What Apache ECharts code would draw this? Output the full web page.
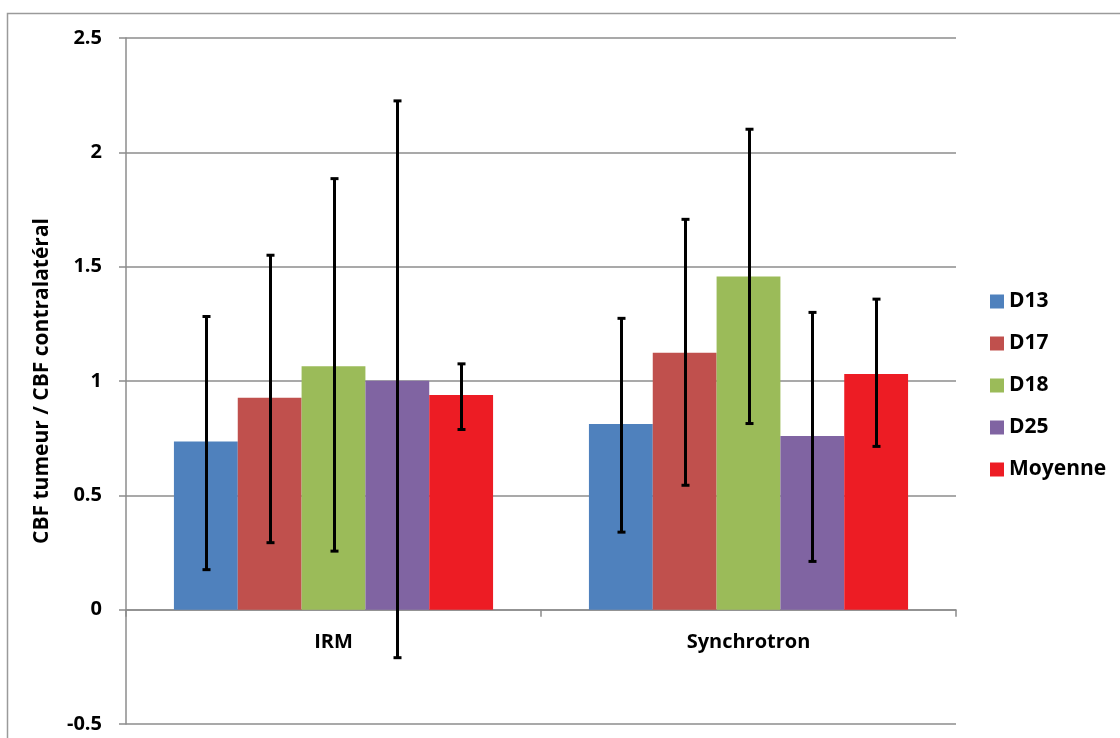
<!DOCTYPE html>
<html>
<head>
<meta charset="utf-8">
<script src="https://cdn.jsdelivr.net/npm/echarts@6/dist/echarts.min.js"></script>
<style>html,body{margin:0;padding:0;background:#fff}#c{width:1120px;height:738px}</style>
</head>
<body>
<div id="c"></div>
<script>
const categories = ['IRM', 'Synchrotron'];
const seriesNames = ['D13', 'D17', 'D18', 'D25', 'Moyenne'];
const d13 = [0.735, 0.812];
const d17 = [0.927, 1.123];
const d18 = [1.064, 1.457];
const d25 = [1.001, 0.760];
const moyenne = [0.939, 1.031];
const d13Err = [[0.175, 1.282], [0.339, 1.274]];
const d17Err = [[0.293, 1.550], [0.544, 1.707]];
const d18Err = [[0.256, 1.885], [0.814, 2.101]];
const d25Err = [[-0.210, 2.225], [0.211, 1.300]];
const moyenneErr = [[0.788, 1.075], [0.714, 1.358]];
const yTicks = { min: -0.5, max: 2.5, interval: 0.5 };

const values = [d13, d17, d18, d25, moyenne];
const errs = [d13Err, d17Err, d18Err, d25Err, moyenneErr];
const colors = ['#4F81BD', '#C0504D', '#9BBB59', '#8064A2', '#ED1C24'];
const catGap = 0.231;
const font = '"Open Sans", Lato, sans-serif';

const series = [];
values.forEach((v, i) => {
  series.push({
    name: seriesNames[i], type: 'bar', data: v,
    itemStyle: { color: colors[i] },
    barGap: '0%', barCategoryGap: (catGap * 100) + '%',
    z: 2
  });
});
const errData = [];
errs.forEach((e, i) => e.forEach((lh, c) => errData.push([c, i, lh[0], lh[1]])));
series.push({
  type: 'custom', z: 10, clip: false,
  data: errData,
  encode: { x: 0, y: [2, 3] },
  renderItem: function (params, api) {
    const c = api.value(0), s = api.value(1);
    const band = api.size([1, 0])[0];
    const groupW = band * (1 - catGap);
    const bw = groupW / seriesNames.length;
    const base = api.coord([c, 0]);
    const x = Math.round(base[0] - groupW / 2 + bw * (s + 0.5)) + 0.5;
    const lo = api.coord([c, api.value(2)])[1];
    const hi = api.coord([c, api.value(3)])[1];
    const cap = 4;
    const st = { stroke: '#000', lineWidth: 3 };
    return {
      type: 'group', children: [
        { type: 'line', shape: { x1: x, y1: hi, x2: x, y2: lo }, style: st },
        { type: 'line', shape: { x1: x - cap, y1: hi, x2: x + cap, y2: hi }, style: st },
        { type: 'line', shape: { x1: x - cap, y1: lo, x2: x + cap, y2: lo }, style: st }
      ]
    };
  }
});
// category labels placed just under the zero line (like the original)
series.push({
  type: 'custom', z: 11, clip: false, silent: true,
  data: categories.map((c, i) => [i, 0]),
  encode: { x: 0, y: 1 },
  renderItem: function (params, api) {
    const p = api.coord([api.value(0), 0]);
    return {
      type: 'text',
      style: {
        x: p[0], y: p[1] + 33, text: categories[api.value(0)],
        align: 'center', verticalAlign: 'middle',
        fontFamily: font, fontWeight: 'bold', fontSize: 20, fill: '#000'
      }
    };
  }
});

const chart = echarts.init(document.getElementById('c'));
chart.setOption({
  animation: false,
  graphic: [{
    type: 'rect', shape: { x: 7.5, y: 13.5, width: 1200, height: 800 },
    style: { fill: 'none', stroke: '#9a9a9a', lineWidth: 1.5 }, silent: true, z: -1
  }],
  grid: { left: 126, right: 164, top: 38, bottom: 14, containLabel: false, outerBoundsMode: 'none' },
  legend: {
    orient: 'vertical', left: 985, top: 286,
    itemWidth: 14, itemHeight: 14, itemGap: 21,
    data: seriesNames,
    icon: 'rect',
    textStyle: { fontFamily: font, fontWeight: 'bold', fontSize: 21, color: '#000' }
  },
  xAxis: {
    type: 'category', data: categories,
    axisLine: { onZero: true, lineStyle: { color: '#8c8c8c', width: 1.5 } },
    axisTick: { show: true, length: 7, inside: false, lineStyle: { color: '#8c8c8c', width: 1.5 } },
    axisLabel: { show: false }
  },
  yAxis: {
    type: 'value', min: yTicks.min, max: yTicks.max, interval: yTicks.interval,
    name: 'CBF tumeur / CBF contralatéral', nameLocation: 'middle', nameGap: 73,
    nameTextStyle: { fontFamily: font, fontWeight: 'bold', fontSize: 21, color: '#000' },
    axisLine: { show: true, lineStyle: { color: '#8c8c8c', width: 1.5 } },
    axisTick: { show: true, length: 7, lineStyle: { color: '#8c8c8c', width: 1.5 } },
    axisLabel: { fontFamily: font, fontWeight: 'bold', fontSize: 20, color: '#000', margin: 24 },
    splitLine: { show: true, lineStyle: { color: '#8c8c8c', width: 1.5 } }
  },
  series: series
});
</script>
</body>
</html>
